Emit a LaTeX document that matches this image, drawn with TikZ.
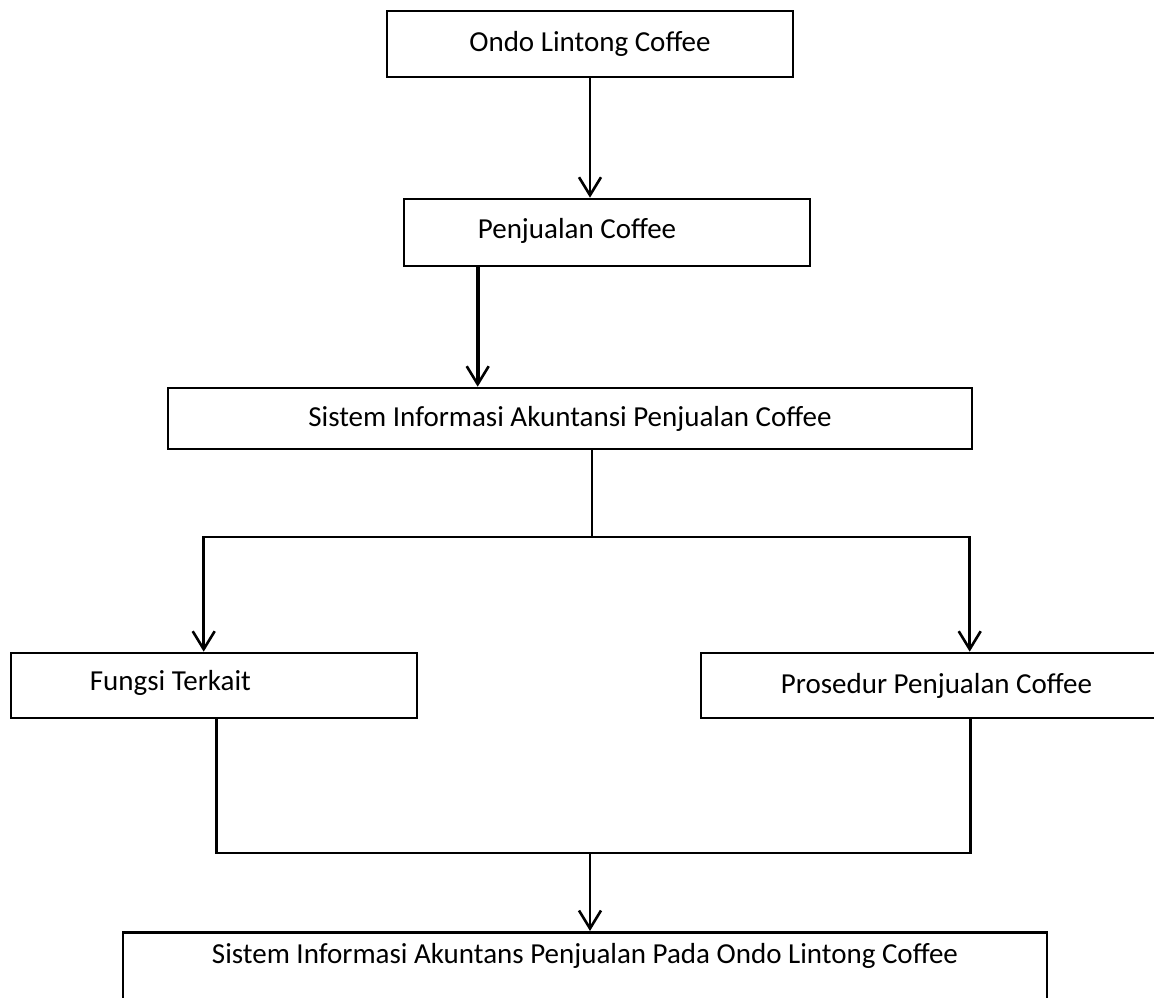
\documentclass[tikz,border=0pt]{standalone}
\usepackage{fontspec}
\setmainfont{Carlito}
\usetikzlibrary{arrows.meta}
\tikzset{
	box/.style={draw, rectangle, line width=2.6pt, inner sep=0pt, font=\fontsize{29}{35}\selectfont},
	txt/.style={inner sep=0pt, font=\fontsize{29}{35}\selectfont},
	conn/.style={line width=2.6pt},
	arr/.style={conn, -{Straight Barb[length=18pt,width=22pt,line width=2.6pt]}}
}
\begin{document}
\begin{tikzpicture}[x=1pt, y=-1pt]
		\useasboundingbox (0,0) rectangle (1154,998);
		% Top
		\node[box, minimum width=406pt, minimum height=66pt] (Ondo) at (590,44) {Ondo Lintong Coffee};
		\node[box, minimum width=406pt, minimum height=67pt] (Penjualan) at (607,232.5) {};
		\node[txt, anchor=west] (PenjualanText) at ([xshift=75pt,yshift=2pt]Penjualan.west) {Penjualan Coffee};
		\draw[arr] (Ondo.south) -- (Ondo.south |- Penjualan.north);

		\node[box, minimum width=804pt, minimum height=61pt] (Sistem) at (570,418.5) {Sistem Informasi Akuntansi Penjualan Coffee};
		\draw[arr, line width=3.6pt] ([xshift=75pt]Penjualan.south west) -- ([xshift=311pt]Sistem.north west);

		% Split
		\node[box, minimum width=406pt, minimum height=65pt] (Fungsi) at (214,685.5) {};
		\node[txt, anchor=west] (FungsiText) at ([xshift=80pt,yshift=3pt]Fungsi.west) {Fungsi Terkait};
		\node[box, minimum width=459pt, minimum height=65pt] (Prosedur) at (930.5,685.5) {};
		\node[txt, anchor=west] (ProsedurText) at ([xshift=81pt]Prosedur.west) {Prosedur Penjualan Coffee};
		\coordinate (Split) at (592,537);
		\draw[conn] ([xshift=22pt]Sistem.south) -- (Split);
		\draw[arr] (Split) -| ([xshift=194pt]Fungsi.north west);
		\draw[arr] (Split) -| ([xshift=270pt]Prosedur.north west);

		% Merge
		\node[box, anchor=north, minimum width=924pt, inner ysep=6pt, text height=25pt, text depth=60pt] (Hasil) at (585,931) {Sistem Informasi Akuntans Penjualan Pada Ondo Lintong Coffee};
		\coordinate (Merge) at (590,853);
		\draw[conn] ([xshift=207pt]Fungsi.south west) |- (Merge) -| ([xshift=271pt]Prosedur.south west);
		\draw[arr] (Merge) -- (Merge |- Hasil.north);
	\end{tikzpicture}
\end{document}
